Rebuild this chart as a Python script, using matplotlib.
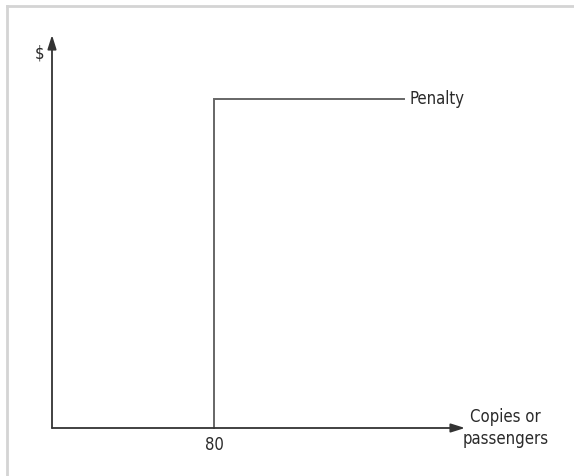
import matplotlib
matplotlib.use("Agg")
import matplotlib.pyplot as plt
from matplotlib.lines import Line2D

plt.rcParams['font.family'] = ['DejaVu Sans']

# step function: nothing below the threshold, a flat penalty above it
threshold = 80
step_x = [threshold, threshold, 174]
step_y = [0, 1.0, 1.0]
x_max = 204
y_max = 1.195
penalty_label = "Penalty"
x_label = "Copies or\npassengers"
y_label = "$"

W, H = 574, 476
fig = plt.figure(figsize=(W / 100, H / 100), dpi=100)

# axes area in pixels: origin at (52, 428), arrow tips at x=465, y=35
left, right, top, bottom = 52, 465, 35, 428
ax = fig.add_axes([left / W, (H - bottom) / H, (right - left) / W, (bottom - top) / H])
ax.set_xlim(0, x_max)
ax.set_ylim(0, y_max)
ax.axis('off')

arrow = dict(arrowstyle='-|>,head_length=0.7,head_width=0.22', color='#333333', lw=1.3,
             mutation_scale=12, shrinkA=0, shrinkB=0)
ax.annotate('', xy=(x_max, 0), xytext=(0, 0), arrowprops=arrow, annotation_clip=False)
ax.annotate('', xy=(0, y_max), xytext=(0, 0), arrowprops=arrow, annotation_clip=False)

ax.plot(step_x, step_y, color='#666666', lw=1.4, clip_on=False, solid_joinstyle='miter')

txt = dict(fontsize=12, color='#2a2a2a', stretch='condensed')
ax.text(step_x[-1] + 2.5, step_y[-1], penalty_label, ha='left', va='center', **txt)
ax.text(threshold, -0.025, str(threshold), ha='center', va='top', **txt)
ax.text(224, 0.0, x_label, ha='center', va='center', linespacing=1.25, clip_on=False, **txt)
ax.text(-6, 1.14, y_label, ha='center', va='center', **txt)

# light frame on the top and left edges
fig.add_artist(Line2D([6.5 / W, 6.5 / W], [0, 1 - 5.5 / H], transform=fig.transFigure,
                      color='#d4d4d4', lw=2))
fig.add_artist(Line2D([6.5 / W, 573 / W], [1 - 5.5 / H, 1 - 5.5 / H], transform=fig.transFigure,
                      color='#d4d4d4', lw=2))

fig.savefig("out.png", dpi=100)
